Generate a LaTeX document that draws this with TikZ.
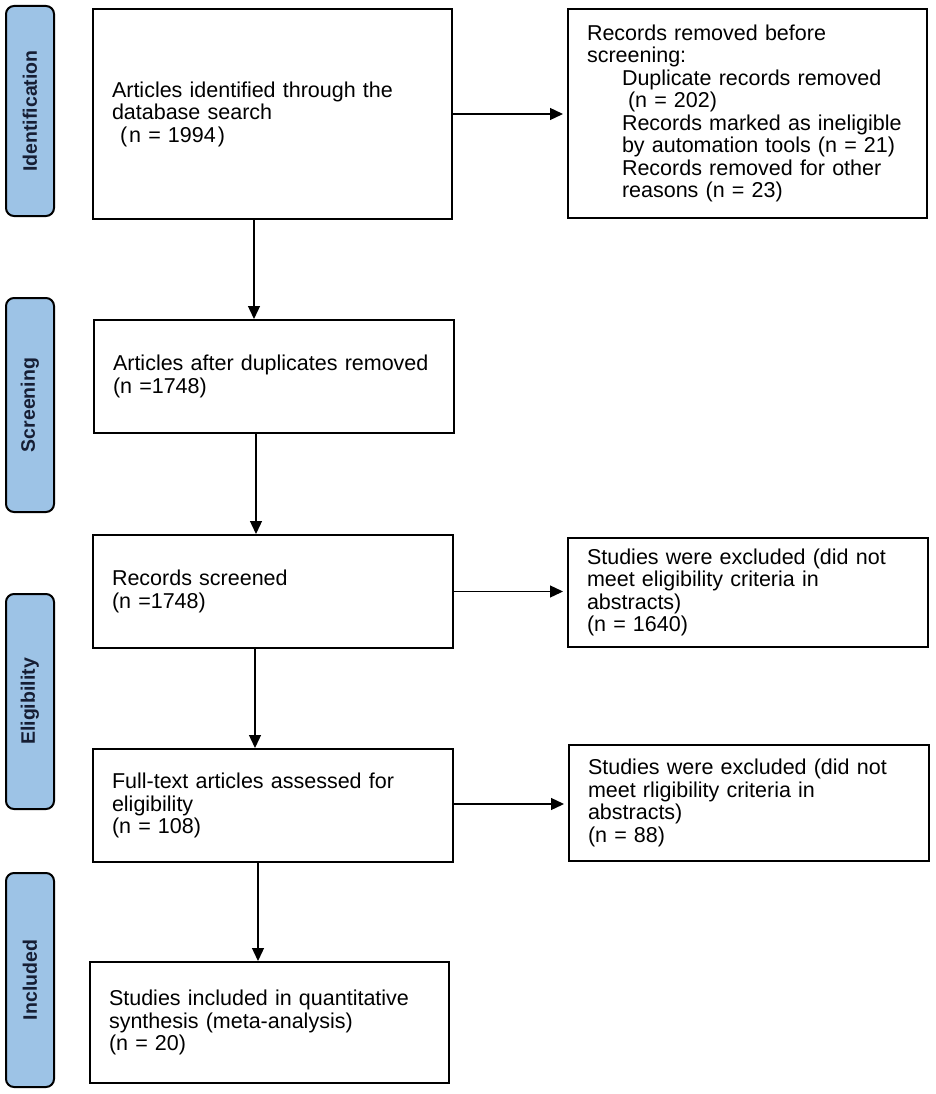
\documentclass[tikz,border=0pt]{standalone}
\usepackage{fontspec}
\setmainfont{Liberation Sans}
\usetikzlibrary{arrows.meta}
\definecolor{barfill}{RGB}{157,195,230}
\definecolor{bartext}{RGB}{22,30,52}
\begin{document}
\begin{tikzpicture}[x=1pt,y=-1pt,
  bar/.style={draw=black, line width=2pt, fill=barfill, rounded corners=8pt,
    rotate=90, minimum height=48pt, inner sep=0pt,
    font=\fontsize{19.5}{22}\selectfont\bfseries, text=bartext},
  flowbox/.style={draw=black, line width=2pt, inner xsep=19pt, inner ysep=0pt,
    align=left, font=\fontsize{21.5}{22.5}\selectfont, anchor=center},
  arr/.style={line width=1.3pt, -{Triangle[length=13pt,width=12pt]}}
]
\useasboundingbox (0,0) rectangle (935,1094);

% stage bars
\node[bar, minimum width=210pt] (s1) at (30,111) {Identification};
\node[bar, minimum width=214pt] (s2) at (30,405) {Screening};
\node[bar, minimum width=215pt] (s3) at (30,701.5) {Eligibility};
\node[bar, minimum width=214pt] (s4) at (30,980) {Included};

% main column
\node[flowbox, minimum width=359pt, text width=321pt, minimum height=210pt] (b1) at (272.5,114)
  {Articles identified through the\\ database search\\ \hspace*{8pt}(\hspace{2pt}n = 1994\hspace{2pt})};
\node[flowbox, minimum width=360pt, text width=322pt, minimum height=113pt] (b2) at (274,376.5)
  {Articles after duplicates removed\\ (n =1748)};
\node[flowbox, minimum width=360pt, text width=322pt, minimum height=113pt] (b3) at (273,591.5)
  {Records screened\\ (n =1748)};
\node[flowbox, minimum width=360pt, text width=322pt, minimum height=113pt] (b4) at (273,805.5)
  {Full-text articles assessed for\\ eligibility\\ (n = 108)};
\node[flowbox, minimum width=359pt, text width=321pt, minimum height=121pt] (b5) at (269.5,1022.5)
  {Studies included in quantitative\\ synthesis (meta-analysis)\\ (n = 20)};

% right column
\node[flowbox, minimum width=359pt, text width=321pt, minimum height=209pt] (r1) at (747.5,113.5)
  {Records removed before\\ screening:\\
   \hspace*{35pt}Duplicate records removed\\
   \hspace*{41pt}(n = 202)\\
   \hspace*{35pt}Records marked as ineligible\\
   \hspace*{35pt}by automation tools (n = 21)\\
   \hspace*{35pt}Records removed for other\\
   \hspace*{35pt}reasons (n = 23)};
\node[flowbox, minimum width=360pt, text width=322pt, minimum height=109pt] (r2) at (748,592.5)
  {Studies were excluded (did not\\ meet eligibility criteria in\\ abstracts)\\ (n = 1640)};
\node[flowbox, minimum width=360pt, text width=322pt, minimum height=116pt] (r3) at (749,803)
  {Studies were excluded (did not\\ meet rligibility criteria in\\ abstracts)\\ (n = 88)};

% vertical arrows
\draw[arr] ([xshift=-18.5pt]b1.south) -- ([xshift=-18.5pt]b1.south |- b2.north);
\draw[arr] ([xshift=-18pt]b2.south) -- ([xshift=-18pt]b2.south |- b3.north);
\draw[arr] ([xshift=-18pt]b3.south) -- ([xshift=-18pt]b3.south |- b4.north);
\draw[arr] ([xshift=-15pt]b4.south) -- ([xshift=-15pt]b4.south |- b5.north);

% horizontal arrows
\draw[arr, shorten >=4pt] (b1.east) -- (b1.east -| r1.west);
\draw[arr, shorten >=4pt] (b3.east) -- (b3.east -| r2.west);
\draw[arr, shorten >=4pt] ([yshift=1.5pt]b4.east) -- ([yshift=1.5pt]b4.east -| r3.west);
\end{tikzpicture}
\end{document}
